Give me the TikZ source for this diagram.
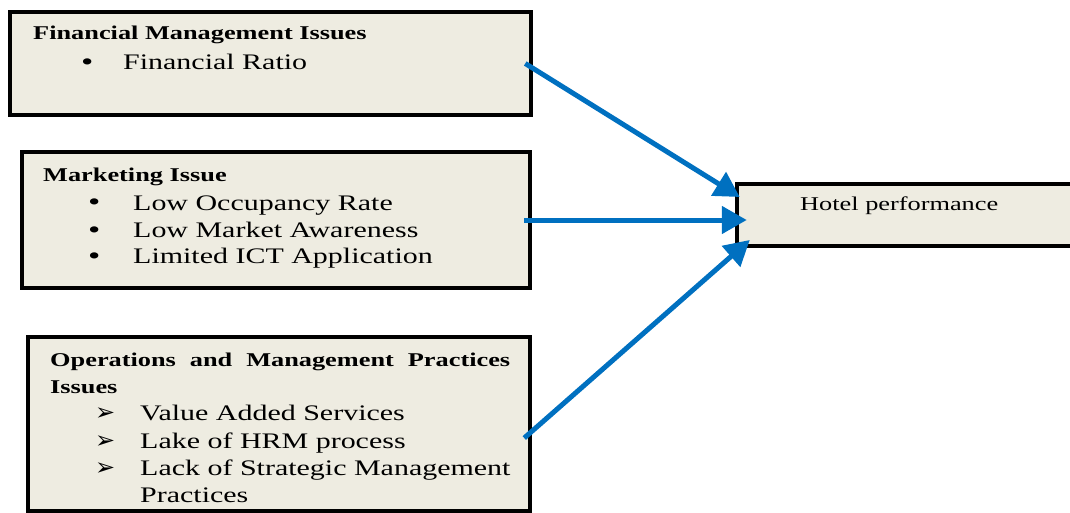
\documentclass[tikz,border=0pt]{standalone}
\usepackage{fontspec}
\setmainfont{Liberation Serif}[FakeStretch=1.35]
\newfontfamily\dingfont{DejaVu Sans}
\usetikzlibrary{arrows.meta}
\definecolor{boxfill}{HTML}{EEECE1}
\definecolor{arrowblue}{HTML}{0070C0}

\begin{document}
\begin{tikzpicture}[x=1pt,y=-1pt,
  box/.style={draw=black,fill=boxfill,line width=4.5pt,inner sep=0pt},
  link/.style={-{Triangle[length=25pt,width=27pt]},line width=5pt,color=arrowblue},
  head/.style={anchor=base west,inner sep=0pt,font=\fontsize{19.5}{23}\selectfont\bfseries},
  item/.style={anchor=base west,inner sep=0pt,font=\fontsize{22.2}{26}\selectfont},
  dot/.style={anchor=base west,inner sep=0pt,font=\fontsize{26}{26}\selectfont},
  tick/.style={anchor=base west,inner sep=0pt,font=\fontsize{24}{24}\selectfont\dingfont}]

\useasboundingbox (0,0) rectangle (1070,513);

\node[box,minimum width=521pt,minimum height=103pt] (fin) at (270.5,63.5) {};
\node[box,minimum width=508pt,minimum height=136pt] (mkt) at (276,220) {};
\node[box,minimum width=502pt,minimum height=174pt] (ops) at (279,424) {};
\node[box,minimum width=343pt,minimum height=62pt] (hotel) at (908.5,215) {};

\node[head] (finhead) at (33,40) {Financial Management Issues};
\node[dot] (finbul) at (81,71) {•};
\node[item] (finratio) at (123,70) {Financial Ratio};

\node[head] (mkthead) at (43,182) {Marketing Issue};
\foreach \y/\t [count=\i] in {210/Low Occupancy Rate,237/Low Market Awareness,263/Limited ICT Application}
{
  \node[dot] (mktbul\i) at (88,\y+1) {•};
  \node[item] (mkt\i) at (133,\y) {\t};
}

\node[head] (opshead) at (50,366) {\makebox[460pt][s]{Operations and Management Practices}};
\node[head] (opsissues) at (50,393) {Issues};
\foreach \y/\t [count=\i] in {420/Value Added Services,448/Lake of HRM process,475/Lack of Strategic Management}
{
  \node[tick] (opsbul\i) at (95,\y) {➢};
  \node[item] (ops\i) at (140,\y) {\t};
}
\node[item] (ops4) at (140,502) {Practices};

\node[anchor=base west,inner sep=0pt,font=\fontsize{19.5}{23}\selectfont] (hoteltext) at (800,210) {Hotel performance};

\draw[link] ([xshift=-8pt]fin.east) -- ([shift={(5,-18)}]hotel.west);
\draw[link] ([xshift=-8pt]mkt.east) -- ([shift={(12,0)}]hotel.west |- mkt.east);
\draw[link] ([shift={(-8,14)}]ops.east) -- ([shift={(15,25)}]hotel.west);

\end{tikzpicture}
\end{document}
